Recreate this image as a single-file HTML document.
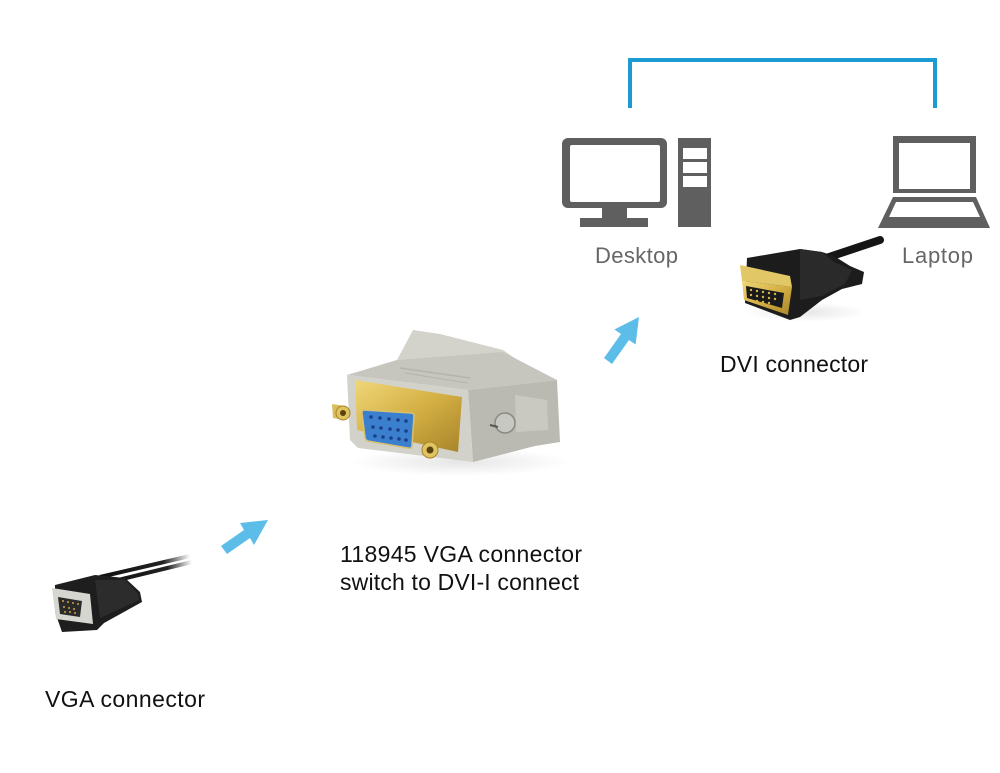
<!DOCTYPE html>
<html>
<head>
<meta charset="utf-8">
<style>
  html,body{margin:0;padding:0;background:#fff;}
  svg{display:block;}
  .lbl{font-family:"Liberation Sans",Arial,sans-serif;font-size:23px;fill:#111;}
  .ico{font-family:"Liberation Sans",Arial,sans-serif;font-size:22px;fill:#666;}
</style>
</head>
<body>
<svg width="1000" height="773" viewBox="0 0 1000 773" xmlns="http://www.w3.org/2000/svg">
  <defs>
    <linearGradient id="gold" x1="0" y1="0" x2="1" y2="1">
      <stop offset="0" stop-color="#f0d77a"/>
      <stop offset="0.5" stop-color="#d4b044"/>
      <stop offset="1" stop-color="#a8842a"/>
    </linearGradient>
    <linearGradient id="fadeA" x1="0" y1="0" x2="1" y2="0">
      <stop offset="0" stop-color="#111"/>
      <stop offset="0.7" stop-color="#222"/>
      <stop offset="1" stop-color="#222" stop-opacity="0"/>
    </linearGradient>
    <radialGradient id="shadow" cx="0.5" cy="0.5" r="0.5">
      <stop offset="0" stop-color="#000" stop-opacity="0.10"/>
      <stop offset="1" stop-color="#000" stop-opacity="0"/>
    </radialGradient>
  </defs>

  <rect width="1000" height="773" fill="#fff"/>

  <!-- Blue bracket connector -->
  <path d="M630 108 V60 H935 V108" fill="none" stroke="#1b9bd1" stroke-width="4"/>

  <!-- Desktop icon -->
  <rect x="562" y="138" width="105" height="70" rx="6" fill="#5f5f5f"/>
  <rect x="570" y="145" width="90" height="57" rx="2" fill="#fff"/>
  <rect x="602" y="207" width="25" height="12" fill="#5f5f5f"/>
  <rect x="580" y="218" width="68" height="9" fill="#5f5f5f"/>
  <rect x="678" y="138" width="33" height="89" fill="#5f5f5f"/>
  <rect x="683" y="148" width="24" height="11" fill="#fff"/>
  <rect x="683" y="162" width="24" height="11" fill="#fff"/>
  <rect x="683" y="176" width="24" height="11" fill="#fff"/>
  <text class="ico" x="595" y="263" textLength="83" lengthAdjust="spacing">Desktop</text>

  <!-- Laptop icon -->
  <rect x="893" y="136" width="83" height="57" fill="#5f5f5f"/>
  <rect x="899" y="143" width="71" height="46" fill="#fff"/>
  <polygon points="893,197 976,197 990,228 878,228" fill="#5f5f5f"/>
  <polygon points="896,202 973,202 980,217 889,217" fill="#fff"/>
  <text class="ico" x="902" y="263" textLength="71" lengthAdjust="spacing">Laptop</text>

  <!-- DVI connector photo -->
  <ellipse cx="805" cy="312" rx="60" ry="10" fill="url(#shadow)"/>
  <line x1="880" y1="240" x2="826" y2="258" stroke="#151515" stroke-width="8" stroke-linecap="round"/>
  <polygon points="747,258 800,249 822,252 834,256 850,266 864,272 862,284 842,289 822,300 800,317 790,320 745,303" fill="#1c1c1c"/>
  <polygon points="800,249 822,252 834,262 852,270 845,284 822,296 800,300" fill="#2a2a2a"/>
  <polygon points="740,265 790,276 792,287 742,281" fill="#e2c766"/>
  <polygon points="742,281 792,287 788,315 744,300" fill="url(#gold)"/>
  <polygon points="746,286 784,293 782,308 747,298" fill="#1a1a1a"/>
  <g fill="#d6b34a">
    <circle cx="751" cy="290" r="1.2"/><circle cx="757" cy="291" r="1.2"/><circle cx="763" cy="292" r="1.2"/><circle cx="769" cy="293" r="1.2"/><circle cx="775" cy="294" r="1.2"/>
    <circle cx="751" cy="295" r="1.2"/><circle cx="757" cy="296" r="1.2"/><circle cx="763" cy="297" r="1.2"/><circle cx="769" cy="298" r="1.2"/><circle cx="775" cy="299" r="1.2"/>
    <circle cx="757" cy="301" r="1.2"/><circle cx="763" cy="302" r="1.2"/><circle cx="769" cy="303" r="1.2"/>
  </g>
  <text class="lbl" x="720" y="372" textLength="148" lengthAdjust="spacing">DVI connector</text>

  <!-- Arrow 2 (to desktop) -->
  <polygon points="639,317 635.6,344.5 629,340 612,364 604,358 621,334 614.4,329.5" fill="#5cbde9"/>

  <!-- VGA to DVI adapter -->
  <ellipse cx="460" cy="462" rx="110" ry="14" fill="url(#shadow)"/>
  <!-- back block -->
  <polygon points="397,360 413,330 440,334 503,350 520,362 470,378" fill="#d3d3cb"/>
  <!-- top face of front body -->
  <polygon points="347,375 397,360 503,352 557,380 468,390" fill="#c6c6be"/>
  <line x1="400" y1="368" x2="470" y2="378" stroke="#b4b4ac" stroke-width="1.5"/>
  <line x1="405" y1="373" x2="468" y2="383" stroke="#b4b4ac" stroke-width="1"/>
  <!-- right side face -->
  <polygon points="468,390 557,380 560,442 535,446 473,462" fill="#babab2"/>
  <polygon points="515,395 547,400 548,430 516,432" fill="#c9c9c1"/>
  <!-- thumb screw -->
  <circle cx="505" cy="423" r="10" fill="#c8c8c2" stroke="#8a8a84" stroke-width="1.5"/>
  <line x1="490" y1="425" x2="498" y2="427" stroke="#555" stroke-width="2"/>
  <!-- front frame -->
  <polygon points="347,375 468,390 473,462 358,448 350,440" fill="#d2d2ca"/>
  <!-- gold plate -->
  <polygon points="355,380 462,397 458,452 357,430" fill="url(#gold)"/>
  <!-- blue socket -->
  <path d="M364 410 L411 413 Q414 413 414 416 L412 445 Q412 449 408 448 L368 441 Q365 440 365 437 L362 413 Q362 410 364 410 Z" fill="#3b7fcf" stroke="#d8c070" stroke-width="1.5"/>
  <g fill="#1c3f85">
    <circle cx="371" cy="417" r="1.8"/><circle cx="380" cy="418" r="1.8"/><circle cx="389" cy="419" r="1.8"/><circle cx="398" cy="420" r="1.8"/><circle cx="406" cy="421" r="1.8"/>
    <circle cx="373" cy="427" r="1.8"/><circle cx="381" cy="428" r="1.8"/><circle cx="390" cy="429" r="1.8"/><circle cx="398" cy="430" r="1.8"/><circle cx="406" cy="431" r="1.8"/>
    <circle cx="375" cy="436" r="1.8"/><circle cx="383" cy="437" r="1.8"/><circle cx="391" cy="438" r="1.8"/><circle cx="399" cy="439" r="1.8"/><circle cx="406" cy="440" r="1.8"/>
  </g>
  <!-- screws -->
  <polygon points="332,404 345,406 345,420 333,418" fill="#d9bd5a"/>
  <circle cx="343" cy="413" r="7" fill="#e0c460" stroke="#a8842a" stroke-width="1"/>
  <circle cx="343" cy="413" r="3" fill="#5a4210"/>
  <circle cx="430" cy="450" r="8" fill="#e0c460" stroke="#a8842a" stroke-width="1"/>
  <circle cx="430" cy="450" r="3.5" fill="#5a4210"/>

  <text class="lbl" x="340" y="562" textLength="242" lengthAdjust="spacing">118945 VGA connector</text>
  <text class="lbl" x="340" y="590" textLength="239" lengthAdjust="spacing">switch to DVI-I connect</text>

  <!-- Arrow 1 -->
  <polygon points="268,520 254,545 250,538 227,554 221,546 244,530 240,523" fill="#5cbde9"/>

  <!-- VGA cable photo -->
  <line x1="100" y1="577" x2="190" y2="556" stroke="url(#fadeA)" stroke-width="4"/>
  <line x1="110" y1="582" x2="192" y2="562" stroke="url(#fadeA)" stroke-width="4"/>
  <polygon points="55,585 95,575 125,578 140,592 142,602 104,623 97,630 62,632 55,612" fill="#1e1e1e"/>
  <polygon points="95,580 125,580 138,594 139,600 100,618" fill="#2c2c2c"/>
  <polygon points="52,588 90,594 93,624 56,619" fill="#d6d6d0"/>
  <polygon points="58,597 82,601 80,617 60,614" fill="#2a2a2a"/>
  <g fill="#c9a640">
    <circle cx="63" cy="601" r="1"/><circle cx="68" cy="602" r="1"/><circle cx="73" cy="603" r="1"/><circle cx="78" cy="604" r="1"/>
    <circle cx="64" cy="607" r="1"/><circle cx="69" cy="608" r="1"/><circle cx="74" cy="609" r="1"/>
    <circle cx="65" cy="612" r="1"/><circle cx="70" cy="612" r="1"/><circle cx="75" cy="613" r="1"/>
  </g>
  <text class="lbl" x="45" y="707" textLength="160" lengthAdjust="spacing">VGA connector</text>
</svg>
</body>
</html>
